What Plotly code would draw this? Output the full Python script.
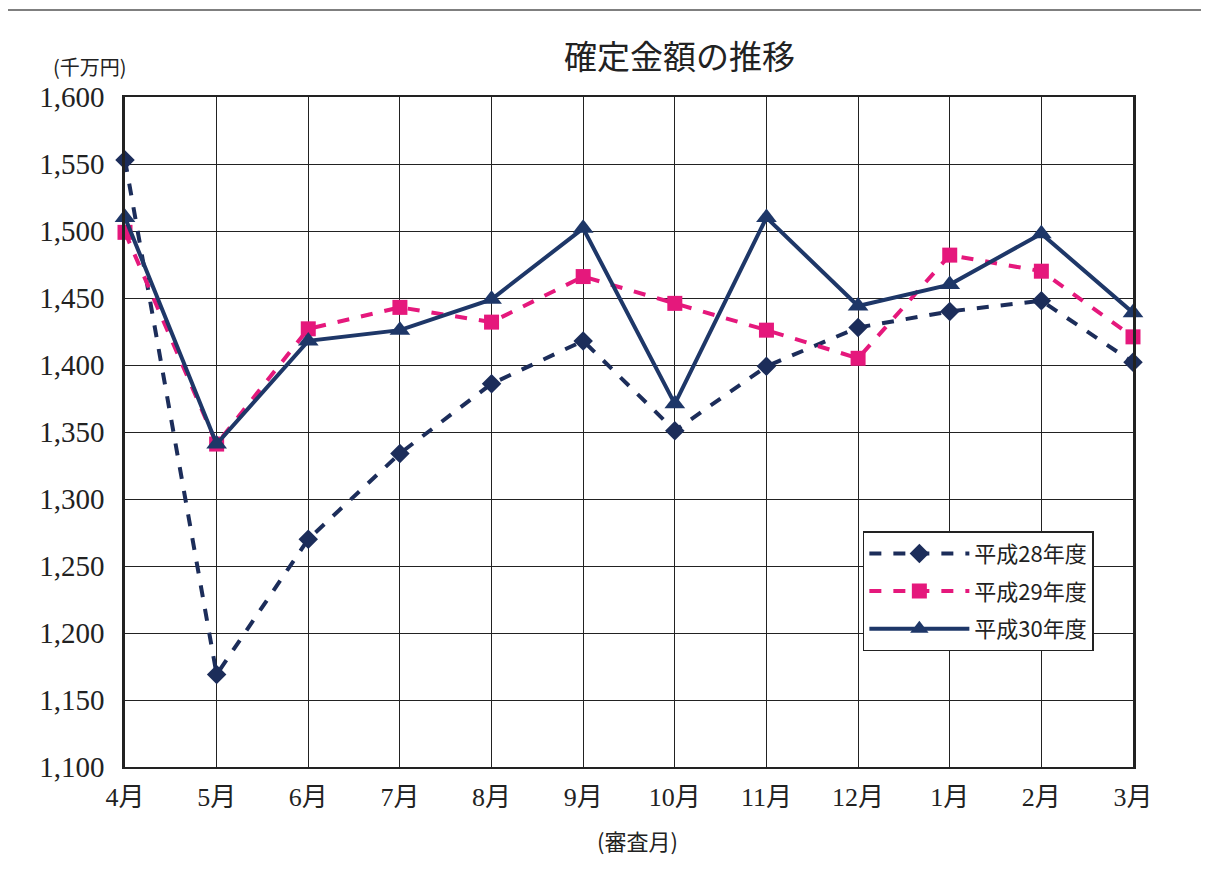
import plotly.graph_objects as go

months = ["4月", "5月", "6月", "7月", "8月", "9月", "10月", "11月", "12月", "1月", "2月", "3月"]
h28 = [1553, 1169, 1270, 1334, 1386, 1418, 1351, 1399, 1428, 1440, 1448, 1402]
h29 = [1499, 1341, 1427, 1443, 1432, 1466, 1446, 1426, 1405, 1482, 1470, 1421]
h30 = [1510, 1341, 1418, 1426, 1449, 1502, 1371, 1510, 1444, 1460, 1498, 1439]
series_names = ["平成28年度", "平成29年度", "平成30年度"]
y_ticks = [1100, 1150, 1200, 1250, 1300, 1350, 1400, 1450, 1500, 1550, 1600]

navy = "#1C2D5A"
pink = "#E5187C"
blue = "#1E3768"
FONT = "Liberation Serif, Noto Sans CJK JP"
JP = "Noto Sans CJK JP"

fig = go.Figure()
fig.add_trace(go.Scatter(x=months, y=h28, name=series_names[0], mode="lines+markers",
                         legendgroup="a",
                         line=dict(color=navy, width=4, dash="dash"),
                         marker=dict(symbol="diamond", size=15, color=navy),
                         cliponaxis=False))
fig.add_trace(go.Scatter(x=months, y=h29, name=series_names[1], mode="lines+markers",
                         legendgroup="b",
                         line=dict(color=pink, width=4, dash="dash"),
                         marker=dict(symbol="square", size=15, color=pink),
                         cliponaxis=False))
fig.add_trace(go.Scatter(x=months, y=h30, name=series_names[2], mode="lines+markers",
                         legendgroup="c",
                         line=dict(color=blue, width=4),
                         marker=dict(symbol="triangle-up", size=18, color=blue),
                         cliponaxis=False))

fig.update_layout(
    width=1193, height=853,
    margin=dict(l=117, r=68, t=89, b=94),
    paper_bgcolor="white", plot_bgcolor="white",
    font=dict(family=FONT, color="#222", size=22),
    showlegend=True,
    legend=dict(x=0.732, y=0.352, xanchor="left", yanchor="top",
                bgcolor="white", bordercolor="#222", borderwidth=1.5,
                font=dict(family=JP, size=22, color="#222"),
                itemwidth=100, tracegroupgap=6),
    xaxis=dict(type="category", range=[0, 11], showgrid=True, gridcolor="#222", gridwidth=1,
               showline=True, linecolor="#222", linewidth=2, mirror=True,
               ticks="", ticklabelstandoff=6,
               tickfont=dict(family=FONT, size=26, color="#222"),
               zeroline=False),
    yaxis=dict(range=[1100, 1600], tickvals=y_ticks,
               ticktext=[f"{v:,}" for v in y_ticks],
               showgrid=True, gridcolor="#222", gridwidth=1,
               showline=True, linecolor="#222", linewidth=2.5, mirror=True,
               ticks="", ticklabelstandoff=12,
               tickfont=dict(family="Liberation Serif", size=29, color="#222"),
               zeroline=False),
)

fig.add_annotation(text="確定金額の推移", xref="paper", yref="paper", x=0.55, y=1.063,
                   xanchor="center", yanchor="middle", showarrow=False,
                   font=dict(family=JP, size=33, color="#222"))
fig.add_annotation(text="(千万円)", xref="paper", yref="paper", x=-0.035, y=1.045,
                   xanchor="center", yanchor="middle", showarrow=False,
                   font=dict(family=JP, size=20, color="#222"))
fig.add_annotation(text="(審査月)", xref="paper", yref="paper", x=0.508, y=-0.109,
                   xanchor="center", yanchor="middle", showarrow=False,
                   font=dict(family=JP, size=22, color="#222"))
fig.add_shape(type="line", xref="paper", yref="paper", x0=-0.124, x1=1.075, y0=1.13, y1=1.13,
              line=dict(color="#555", width=1.5))

fig.write_html("out.html")
